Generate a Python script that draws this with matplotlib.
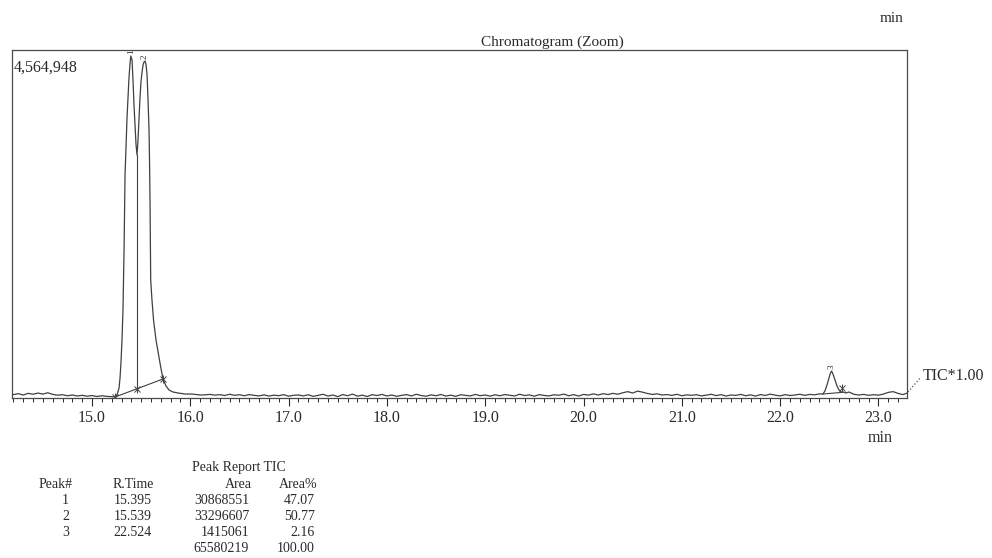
import numpy as np
import matplotlib
import matplotlib.pyplot as plt
from matplotlib.lines import Line2D
from matplotlib.ticker import MultipleLocator, FormatStrFormatter

matplotlib.rcParams['font.family'] = ['Liberation Serif', 'DejaVu Serif']

# TIC trace, intensity in thousands of counts
base_step = 0.05
left_start = 14.20
left_base = [45, 58, 40, 62, 50, 66, 52, 70, 48, 38, 44, 30, 40, 27, 36, 24,
             33, 20, 30, 22, 18]

cluster_time = [15.234, 15.254, 15.275, 15.285, 15.295, 15.305, 15.315, 15.320,
                15.326, 15.331, 15.336, 15.346, 15.356, 15.366, 15.376, 15.387,
                15.395, 15.407, 15.417, 15.427, 15.437, 15.448, 15.458, 15.468,
                15.478, 15.488, 15.498, 15.509, 15.519, 15.529, 15.539, 15.549,
                15.560, 15.570, 15.580, 15.585, 15.590, 15.593, 15.597, 15.610,
                15.626, 15.651, 15.677, 15.697, 15.722, 15.753, 15.783, 15.824,
                15.875, 15.946, 16.017, 16.099]
cluster_int = [13, 40, 133, 267, 481, 774, 1175, 1508,
               1976, 2509, 2977, 3377, 3737, 4004, 4271, 4472,
               4564.948, 4512, 4245, 3911, 3644, 3377, 3244, 3444,
               3737, 4004, 4218, 4351, 4445, 4485, 4498, 4458,
               4311, 3978, 3577, 3177, 2643, 2109, 1575, 1308,
               1041, 774, 574, 427, 254, 160, 107, 80,
               67, 53, 53, 40]

right_start = 16.15
right_base = [42, 48, 38, 45, 33, 50, 36, 44, 30, 46,
              35, 28, 42, 26, 38, 31, 45, 24, 36, 40,
              28, 44, 22, 35, 50, 26, 40, 18, 46, 30,
              52, 25, 38, 20, 44, 33, 48, 27, 40, 22,
              36, 45, 28, 50, 32, 24, 42, 30, 47, 26,
              38, 22, 44, 35, 28, 48, 31, 40, 25, 43,
              30, 46, 36, 27, 50, 33, 41, 24, 45, 34,
              28, 43, 37, 52, 30, 45, 26, 48, 38, 55,
              40, 58, 46, 62, 50, 70, 85, 66, 92, 78,
              60, 48, 55, 40, 46, 35, 50, 30, 42, 36,
              44, 28, 38, 50, 32, 45, 26, 40, 35, 48,
              30, 42, 25, 46, 34, 52, 38, 28, 45, 33,
              40, 50, 35, 48, 42, 55]

peak3_time = [22.436, 22.456, 22.477, 22.497, 22.512, 22.524, 22.538, 22.558,
              22.579, 22.599, 22.619, 22.640, 22.670, 22.701]
peak3_int = [53, 93, 174, 267, 334, 360, 320, 240, 160, 107, 80, 80, 67, 80]

tail_start = 22.75
tail_base = [50, 40, 48, 36, 44, 38, 52, 75, 85, 62, 45, 70]

# integration baselines (time, intensity)
base12_time = [15.234, 15.722]
base12_int = [13, 254]
drop_time = 15.458
base3_time = [22.436, 22.630]
base3_int = [53, 75]

# peak report
peak_no = [1, 2, 3]
ret_time = [15.395, 15.539, 22.524]
peak_area = [30868551, 33296607, 1415061]
area_pct = [47.07, 50.77, 2.16]
total_area = 65580219
max_counts = 4564948


def grid(start, values):
    return start + base_step * np.arange(len(values))


t = np.concatenate([grid(left_start, left_base), cluster_time,
                    grid(right_start, right_base), peak3_time,
                    grid(tail_start, tail_base)])
y = np.concatenate([left_base, cluster_int, right_base, peak3_int, tail_base])

W, H = 992, 558


def px(x, yy):
    return x / W, 1 - yy / H


ink = '#2a2a2a'
line_c = '#404040'
fig = plt.figure(figsize=(W / 100, H / 100), dpi=100)
ax = fig.add_axes([12 / W, 1 - 398 / H, 895 / W, 348 / H])

ax.plot(t, y, color=line_c, lw=0.9)

# integration baselines, drop line and marks
ax.plot(base12_time, base12_int, color=line_c, lw=0.8)
ax.plot(base3_time, base3_int, color=line_c, lw=0.8)
valley = np.interp(drop_time, cluster_time, cluster_int)
drop_base = np.interp(drop_time, base12_time, base12_int)
ax.plot([drop_time, drop_time], [drop_base, valley], color=line_c, lw=0.8)
marks_t = [base12_time[0], drop_time, base12_time[1], base3_time[1]]
marks_y = [base12_int[0], drop_base, base12_int[1], base3_int[1] + 55]
ax.plot(marks_t, marks_y, ls='none', marker='x', ms=4, mew=0.7, color=line_c)
ax.plot(marks_t, marks_y, ls='none', marker='|', ms=6, mew=0.7, color=line_c)

# peak numbers above apexes
apex = np.interp(ret_time, t, y)
for n, rt, h in zip(peak_no, ret_time, apex):
    ax.annotate(str(n), (rt, h), xytext=(0, 1.5), textcoords='offset points',
                rotation=90, ha='center', va='bottom', fontsize=6.5, color=ink)

ax.set_xlim(14.186, 23.291)
ax.set_ylim(0, 4645.1)
ax.xaxis.set_major_locator(MultipleLocator(1))
ax.xaxis.set_minor_locator(MultipleLocator(0.1))
ax.xaxis.set_major_formatter(FormatStrFormatter('%.1f'))
ax.tick_params(axis='x', which='major', direction='out', length=6, width=0.8,
               pad=3, labelsize=11.5, colors=ink)
ax.tick_params(axis='x', which='minor', direction='out', length=3, width=0.7,
               colors=ink)
ax.set_yticks([])
for s in ax.spines.values():
    s.set_color('#4a4a4a')
    s.set_linewidth(0.9)

ax.text(0.002, 0.972, f'{max_counts:,}', transform=ax.transAxes,
        ha='left', va='top', fontsize=11.5, color=ink)

fig.text(*px(552, 42), 'Chromatogram (Zoom)', ha='center', va='center',
         fontsize=11, color=ink)
fig.text(*px(892, 19), 'min', ha='center', va='center', fontsize=11, color=ink)
fig.text(*px(880, 438), 'min', ha='center', va='center', fontsize=11.5, color=ink)
fig.text(*px(923, 376), 'TIC*1.00', ha='left', va='center', fontsize=11.5,
         color=ink)
x0, y0 = px(908, 392)
x1, y1 = px(921, 377)
fig.add_artist(Line2D([x0, x1], [y0, y1], ls=':', lw=0.9, color='#4a4a4a',
                      transform=fig.transFigure))

# peak report table
tf = dict(fontsize=10, color=ink, va='center')
fig.text(*px(239, 468), 'Peak Report TIC', ha='center', **tf)
fig.text(*px(73, 485), 'Peak#', ha='right', **tf)
fig.text(*px(154, 485), 'R.Time', ha='right', **tf)
fig.text(*px(252, 485), 'Area', ha='right', **tf)
fig.text(*px(317, 485), 'Area%', ha='right', **tf)
row_y = [500, 516, 532]
for ry, n, rt, a, p in zip(row_y, peak_no, ret_time, peak_area, area_pct):
    fig.text(*px(69, ry), str(n), ha='right', **tf)
    fig.text(*px(152, ry), f'{rt:.3f}', ha='right', **tf)
    fig.text(*px(249, ry), str(a), ha='right', **tf)
    fig.text(*px(315, ry), f'{p:.2f}', ha='right', **tf)
fig.text(*px(249, 548), str(total_area), ha='right', **tf)
fig.text(*px(315, 548), f'{sum(area_pct):.2f}', ha='right', **tf)

fig.savefig('out.png', dpi=100, facecolor='white')
